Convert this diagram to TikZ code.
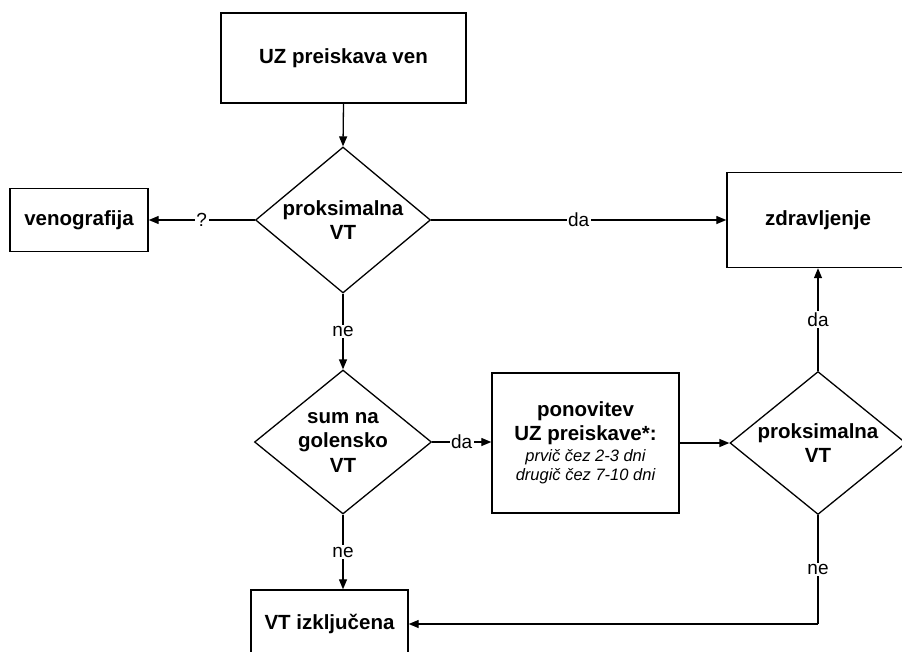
\documentclass[tikz,border=0pt]{standalone}
\usepackage{fontspec}
\setmainfont{Liberation Sans}
\usetikzlibrary{shapes.geometric,arrows.meta}
\tikzset{
  boxnode/.style={draw, line width=1.4pt, rectangle, inner sep=0pt, align=center,
    font=\fontsize{20.5}{24}\selectfont\bfseries},
  decnode/.style={draw, line width=1.3pt, diamond, inner sep=0pt},
  dectext/.style={align=center, font=\fontsize{20.5}{24.5}\selectfont\bfseries},
  conn/.style={line width=1.3pt, -{Triangle[length=10pt,width=8pt]}},
  lab/.style={fill=white, inner sep=1.5pt, font=\fontsize{19}{22}\selectfont}
}
\begin{document}
\begin{tikzpicture}[x=1pt,y=-1pt]
\useasboundingbox (0,0) rectangle (902,651);
\clip (0,0) rectangle (902,651);
\fill[white] (0,0) rectangle (902,651);
\node[boxnode, minimum width=245pt, minimum height=90pt] (b1) at (343.5,58) {UZ preiskava ven};
\node[decnode, minimum width=175pt, minimum height=146pt] (d1) at (343,220) {};
\node[dectext] (t1) at (d1.center) {proksimalna\\VT};
\node[boxnode, minimum width=138pt, minimum height=63pt] (ven) at (79,220) {venografija};
\node[boxnode, minimum width=182pt, minimum height=95pt] (zdr) at (818,220) {zdravljenje};
\node[decnode, minimum width=177pt, minimum height=144pt] (d2) at (343,442) {};
\node[dectext] (t2) at (d2.center) {sum na\\golensko\\VT};
\node[boxnode, minimum width=187pt, minimum height=140pt] (pon) at (585.5,443)
  {ponovitev\\UZ preiskave*:\\[-3pt]{\fontsize{16.5}{19}\selectfont\mdseries\itshape prvič čez 2-3 dni}\\[-5pt]{\fontsize{16.5}{19}\selectfont\mdseries\itshape drugič čez 7-10 dni}};
\node[decnode, minimum width=176pt, minimum height=143pt] (d3) at (818,443) {};
\node[dectext] (t3) at (d3.center) {proksimalna\\VT};
\node[boxnode, minimum width=157pt, minimum height=68pt] (vti) at (329.5,624) {VT izključena};
\coordinate (corner) at (818,624);

\draw[conn] (b1.south) -- (d1.north);
\draw[conn] (d1.west) -- node[lab] {?} (ven.east);
\draw[conn] (d1.east) -- node[lab] {da} (zdr.west);
\draw[conn] (d1.south) -- node[lab] {ne} (d2.north);
\draw[conn] (d2.east) -- node[lab] {da} (d2.east -| pon.west);
\draw[conn] (pon.east) -- (d3.west);
\draw[conn] (d3.north) -- node[lab] {da} (zdr.south);
\draw[conn] (d2.south) -- node[lab] {ne} (d2.south |- vti.north);
\draw[line width=1.3pt] (d3.south) -- node[lab] {ne} (corner);
\draw[conn] (corner) -- (vti.east);
\end{tikzpicture}
\end{document}
